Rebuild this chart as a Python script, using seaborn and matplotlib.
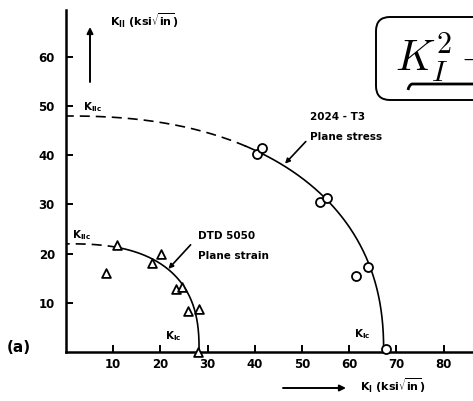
import numpy as np
import pandas as pd
import matplotlib
matplotlib.use("Agg")
import matplotlib.pyplot as plt
import seaborn as sns
from matplotlib.patches import FancyBboxPatch, PathPatch
from matplotlib.path import Path

# 2024-T3, plane stress (open circles): K_I, K_II in ksi*sqrt(in)
t3_ki = [40.4, 41.5, 53.8, 55.4, 61.4, 63.9, 67.8]
t3_kii = [40.3, 41.4, 30.6, 31.4, 15.5, 17.3, 0.7]

# DTD 5050, plane strain (open triangles)
dtd_ki = [10.7, 8.5, 18.2, 20.1, 23.3, 24.6, 25.9, 28.2, 28.0]
dtd_kii = [21.8, 16.1, 18.0, 19.9, 12.8, 13.3, 8.3, 8.7, 0.0]

# fracture envelopes: K_Ic, K_IIc, shape exponent, K_I where the dashed part ends
t3_kic, t3_kiic, t3_exp, t3_dash_end = 67.3, 48.0, 2.3, 37.9
dtd_kic, dtd_kiic, dtd_exp, dtd_dash_end = 28.2, 22.0, 2.6, 10.7

x_ticks = [10, 20, 30, 40, 50, 60, 70, 80]
y_ticks = [10, 20, 30, 40, 50, 60]

W, H = 473, 401

sns.set_style("ticks")
plt.rcParams["font.family"] = ["DejaVu Sans"]
plt.rcParams["mathtext.fontset"] = "dejavusans"
for key in ("text.color", "axes.labelcolor", "xtick.color", "ytick.color",
            "axes.edgecolor"):
    plt.rcParams[key] = "black"

fig = plt.figure(figsize=(W / 100, H / 100), dpi=100)
ax = fig.add_axes([66 / W, 49 / H, (W - 66) / W, 342 / H])


def envelope(kic, kiic, p, n=400):
    t = np.linspace(0.0, np.pi / 2, n)
    return kic * np.cos(t) ** (2 / p), kiic * np.sin(t) ** (2 / p)


dash = (0, (6, 3.6))
for kic, kiic, p, dash_end in [(t3_kic, t3_kiic, t3_exp, t3_dash_end),
                               (dtd_kic, dtd_kiic, dtd_exp, dtd_dash_end)]:
    ki, kii = envelope(kic, kiic, p)
    env = pd.DataFrame({"KI": ki, "KII": kii})
    solid = env[env["KI"] >= dash_end]
    dashed = env[env["KI"] <= dash_end + 0.3]
    sns.lineplot(data=solid, x="KI", y="KII", sort=False, estimator=None,
                 color="black", lw=1.2, ax=ax)
    sns.lineplot(data=dashed, x="KI", y="KII", sort=False, estimator=None,
                 color="black", lw=1.2, linestyle=dash, ax=ax)

sns.scatterplot(x=t3_ki, y=t3_kii, marker="o", s=42, color="white",
                edgecolor="black", linewidth=1.3, clip_on=False, zorder=4, ax=ax)
sns.scatterplot(x=dtd_ki, y=dtd_kii, marker="^", s=40, color="white",
                edgecolor="black", linewidth=1.3, clip_on=False, zorder=4, ax=ax)

ax.set_xlim(0, (W - 66) / 4.72)
ax.set_ylim(0, 342 / 4.917)
ax.set_xticks(x_ticks)
ax.set_yticks(y_ticks)
ax.set_xlabel("")
ax.set_ylabel("")
sns.despine(ax=ax)
for s in ("left", "bottom"):
    ax.spines[s].set_linewidth(1.8)
    ax.spines[s].set_color("black")
ax.tick_params(axis="both", direction="in", length=5, width=1.4,
               labelsize=8.5, colors="black")
ax.tick_params(axis="y", pad=8)
ax.tick_params(axis="x", pad=4)
for lab in ax.get_xticklabels() + ax.get_yticklabels():
    lab.set_fontweight("bold")

tk = dict(fontsize=7.5, fontweight="bold", va="center", ha="left",
          color="black")
ax.text(3.6, 49.8, r"K$_{\mathbf{IIc}}$", **tk)
ax.text(1.3, 23.8, r"K$_{\mathbf{IIc}}$", **tk)
ax.text(21.0, 3.3, r"K$_{\mathbf{Ic}}$", **tk)
ax.text(61.0, 3.7, r"K$_{\mathbf{Ic}}$", **tk)

ax.text(51.7, 47.8, "2024 - T3", **tk)
ax.text(51.7, 43.7, "Plane stress", **tk)
ax.text(27.9, 23.5, "DTD 5050", **tk)
ax.text(27.9, 19.6, "Plane strain", **tk)

arrow = dict(arrowstyle="-|>", color="black", lw=1.2, mutation_scale=7,
             shrinkA=0, shrinkB=0)
ax.annotate("", xy=(46.4, 38.3), xytext=(50.8, 42.8), arrowprops=arrow)
ax.annotate("", xy=(21.7, 16.9), xytext=(26.4, 21.8), arrowprops=arrow)


def fpx(x, y):
    return x / W, 1 - y / H


# axis titles with direction arrows
fig.text(*fpx(110, 21), r"K$_{\mathbf{II}}$ (ksi$\sqrt{\mathbf{in}}$)",
         fontsize=8, fontweight="bold", va="center", ha="left")
fig.text(*fpx(360, 386), r"K$_{\mathbf{I}}$ (ksi$\sqrt{\mathbf{in}}$)",
         fontsize=8, fontweight="bold", va="center", ha="left")
ax_arrow = dict(arrowstyle="-|>", color="black", lw=1.4, mutation_scale=9,
                shrinkA=0, shrinkB=0)
ax.annotate("", xy=fpx(90, 27), xytext=fpx(90, 82),
            xycoords="figure fraction", textcoords="figure fraction",
            arrowprops=ax_arrow, annotation_clip=False)
ax.annotate("", xy=fpx(346, 388), xytext=fpx(283, 388),
            xycoords="figure fraction", textcoords="figure fraction",
            arrowprops=ax_arrow, annotation_clip=False)

fig.text(*fpx(7, 348), "(a)", fontsize=11, fontweight="bold",
         va="center", ha="left")

# failure criterion box in the corner
box = FancyBboxPatch((3.76, 3.01), 1.6, 0.83,
                     boxstyle="round,pad=0,rounding_size=0.14",
                     transform=fig.dpi_scale_trans, fc="white", ec="black",
                     lw=1.4, clip_on=False)
fig.patches.append(box)
fig.text(3.95, 3.30, r"$K_I^2 +$", fontsize=31, math_fontfamily="cm",
         transform=fig.dpi_scale_trans, va="baseline", ha="left")
brace = Path([(4.08, 3.11), (4.09, 3.16), (4.12, 3.17), (4.20, 3.17),
              (4.80, 3.17)],
             [Path.MOVETO, Path.CURVE3, Path.CURVE3, Path.LINETO, Path.LINETO])
fig.patches.append(PathPatch(brace, transform=fig.dpi_scale_trans,
                             fc="none", ec="black", lw=2.0))

fig.savefig("out.png", dpi=100)
